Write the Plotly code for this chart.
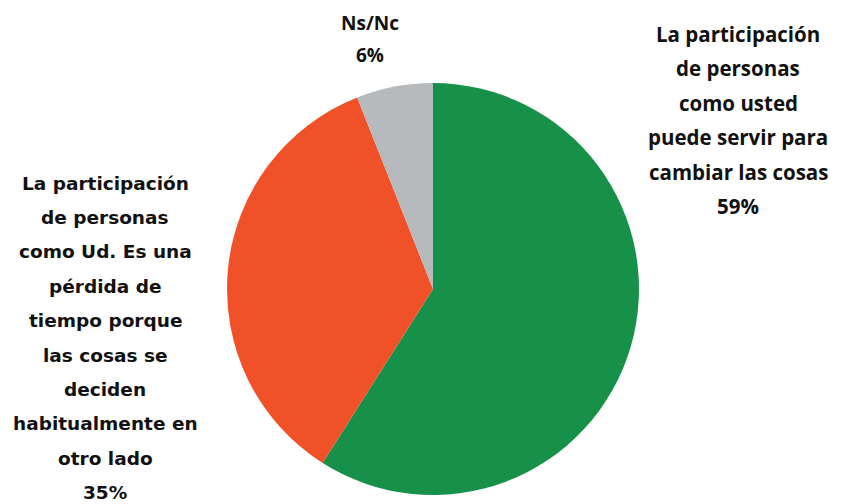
import plotly.graph_objects as go

categories = [
    "La participación de personas como usted puede servir para cambiar las cosas",
    "La participación de personas como Ud. Es una pérdida de tiempo porque las cosas se deciden habitualmente en otro lado",
    "Ns/Nc",
]
values = [59, 35, 6]
colors = ["#17914a", "#f15129", "#b6babd"]

label_right = ["La participación", "de personas", "como usted", "puede servir para", "cambiar las cosas", "59%"]
label_left = ["La participación", "de personas", "como Ud. Es una", "pérdida de", "tiempo porque",
              "las cosas se", "deciden", "habitualmente en", "otro lado", "35%"]
label_top = ["Ns/Nc", "6%"]

W, H = 842, 504
OFF = 8  # page body margin


def px(x):
    return (x - OFF) / W


def py(y):
    return 1 - (y - OFF) / H


fig = go.Figure(go.Pie(
    labels=categories,
    values=values,
    marker=dict(colors=colors, line=dict(width=0)),
    sort=False,
    direction="clockwise",
    rotation=0,
    textinfo="none",
    hoverinfo="label+percent",
    domain=dict(x=[px(433 - 206), px(433 + 206)], y=[py(495), py(83)]),
    showlegend=False,
))

annotations = []


def add_block(lines, cx, y0, step, family, size):
    for i, t in enumerate(lines):
        annotations.append(dict(
            text="<b>" + t + "</b>", x=px(cx), y=py(y0 + i * step),
            xref="paper", yref="paper", showarrow=False,
            xanchor="center", yanchor="middle",
            font=dict(family=family, size=size, color="#111111"),
        ))


add_block(label_right, 738, 34, 34.4, "Open Sans", 20.5)
add_block(label_left, 105, 183, 34.4, "DejaVu Sans", 18.5)
add_block(label_top, 370, 23, 32, "Open Sans", 19)

fig.update_layout(
    width=W, height=H,
    margin=dict(l=0, r=0, t=0, b=0),
    paper_bgcolor="white",
    plot_bgcolor="white",
    annotations=annotations,
)

fig.write_html("out.html")
